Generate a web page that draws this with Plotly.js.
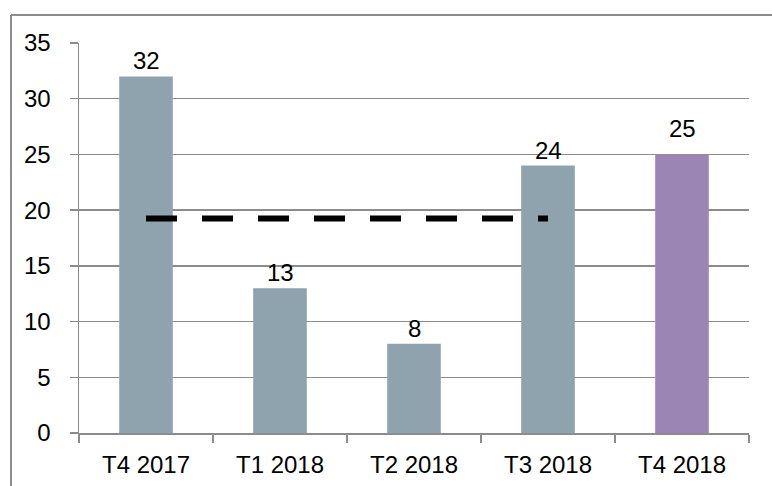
<!DOCTYPE html>
<html>
<head>
<meta charset="utf-8">
<script src="https://cdn.plot.ly/plotly-3.0.1.min.js"></script>
<style>html,body{margin:0;padding:0;background:#fff;}#chart{width:772px;height:486px;}</style>
</head>
<body>
<div id="chart"></div>
<script>
const categories = ['T4 2017', 'T1 2018', 'T2 2018', 'T3 2018', 'T4 2018'];
const values = [32, 13, 8, 24, 25];
const barColors = ['#8FA3AE', '#8FA3AE', '#8FA3AE', '#8FA3AE', '#9A85B5'];
const avgCategories = ['T4 2017', 'T3 2018'];
const avgValues = [19.25, 19.25];
const yTicks = [0, 5, 10, 15, 20, 25, 30, 35];

const font = {family: '"Liberation Sans", Arial, sans-serif', size: 24, color: '#000'};

const data = [
  {
    type: 'bar', x: categories, y: values,
    marker: {color: barColors, line: {width: 0}},
    hoverinfo: 'none'
  },
  {
    type: 'scatter', mode: 'lines', x: avgCategories, y: avgValues,
    line: {color: '#000', width: 6, dash: '31px,25px'}, hoverinfo: 'none'
  }
];

const annotations = categories.map((c, i) => ({
  x: c, y: values[i], xref: 'x', yref: 'y', text: String(values[i]),
  showarrow: false, yanchor: 'bottom', yshift: i === categories.length - 1 ? 10 : 0,
  font: font
}));

const layout = {
  width: 772, height: 486,
  margin: {l: 79, r: 23, t: 43, b: 53},
  paper_bgcolor: '#fff', plot_bgcolor: '#fff',
  showlegend: false, font: font,
  bargap: 0.6,
  annotations: annotations,
  xaxis: {
    type: 'category', showgrid: false, showline: true, linecolor: '#8c8c8c', linewidth: 1.5,
    ticks: 'outside', tickson: 'boundaries', ticklen: 8, tickcolor: '#8c8c8c', tickwidth: 1.5,
    tickfont: font, ticklabelstandoff: 10, fixedrange: true
  },
  yaxis: {
    range: [0, 35], tickvals: yTicks, showgrid: true, gridcolor: '#8c8c8c', gridwidth: 1.3,
    showline: true, linecolor: '#8c8c8c', linewidth: 1.5, zeroline: false,
    ticks: 'outside', ticklen: 8, tickcolor: '#8c8c8c', tickwidth: 1.5,
    tickfont: font, ticklabelstandoff: 14, fixedrange: true
  },
  shapes: [
    {type: 'line', xref: 'paper', yref: 'paper', x0: -0.1015, x1: 1.1, y0: 1.0718, y1: 1.0718,
     line: {color: '#8c8c8c', width: 2}},
    {type: 'line', xref: 'paper', yref: 'paper', x0: -0.1015, x1: -0.1015, y0: 1.0718, y1: -0.2,
     line: {color: '#8c8c8c', width: 2}}
  ]
};

Plotly.newPlot('chart', data, layout, {displayModeBar: false, staticPlot: true});
</script>
</body>
</html>
